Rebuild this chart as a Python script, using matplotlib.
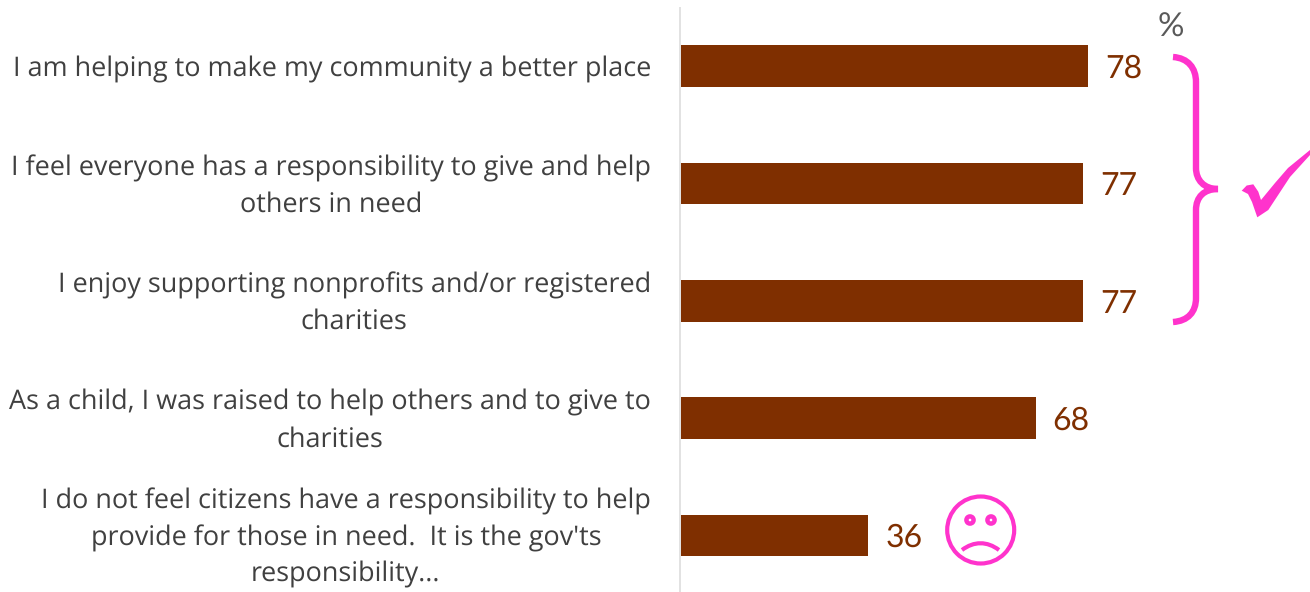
import matplotlib
matplotlib.use("Agg")
import matplotlib.pyplot as plt
from matplotlib.patches import Circle, PathPatch, Polygon
from matplotlib.path import Path

etiquetas = [
    "I am helping to make my community a better place",
    "I feel everyone has a responsibility to give and help\nothers in need",
    "I enjoy supporting nonprofits and/or registered\ncharities",
    "As a child, I was raised to help others and to give to\ncharities",
    "I do not feel citizens have a responsibility to help\nprovide for those in need.  It is the gov'ts\nresponsibility...",
]
valores = [78, 77, 77, 68, 36]

MARRON = "#7f2f00"
ROSA = "#ff33cc"
W, H = 1310, 592

plt.rcParams["text.hinting"] = "no_hinting"
plt.rcParams["text.hinting_factor"] = 1

fig = plt.figure(figsize=(W / 100, H / 100), dpi=100)

# ejes de las barras: el cero queda en x=680
ax = fig.add_axes([680 / W, (H - 594.2) / H, (W - 680) / W, 586.6 / H])
posiciones = list(range(len(valores)))
ax.barh(posiciones, valores, height=0.354, color=MARRON)
ax.set_xlim(0, (W - 680) / 5.235)
ax.set_ylim(len(valores) - 0.5, -0.5)
ax.patch.set_visible(False)
for lado in ["top", "right", "bottom"]:
    ax.spines[lado].set_visible(False)
ax.spines["left"].set_color("#e2e2e2")
ax.spines["left"].set_linewidth(1.44)
ax.set_xticks([])
ax.set_yticks([])

# etiquetas de categoria, alineadas a la derecha y centradas entre si
for p, etiqueta in zip(posiciones, etiquetas):
    ax.annotate(etiqueta, xy=(0, p), xytext=(-21, -2), textcoords="offset points",
                family="Open Sans", fontsize=19.4, color="#404040", linespacing=1.46,
                ha="right", va="center", multialignment="center")

for p, v in zip(posiciones, valores):
    ax.text(v + 3.2, p + 0.022, str(v), family="Lato", fontsize=23, color=MARRON, ha="left", va="center")

# capa en pixeles para las anotaciones
capa = fig.add_axes([0, 0, 1, 1])
capa.set_xlim(0, W)
capa.set_ylim(H, 0)
capa.axis("off")

capa.text(1170.5, 27, "%", family="Lato", fontsize=24, color="#595959", ha="center", va="center")

# llave
vertices = [
    (1173, 57), (1188, 58), (1196, 68), (1196, 82),
    (1196, 168),
    (1196, 180), (1204, 189), (1218, 189),
    (1204, 189), (1196, 197), (1196, 210),
    (1196, 298),
    (1196, 312), (1188, 321), (1173, 322),
]
codigos = [Path.MOVETO, Path.CURVE4, Path.CURVE4, Path.CURVE4, Path.LINETO,
           Path.CURVE4, Path.CURVE4, Path.CURVE4, Path.CURVE4, Path.CURVE4, Path.CURVE4,
           Path.LINETO, Path.CURVE4, Path.CURVE4, Path.CURVE4]
capa.add_patch(PathPatch(Path(vertices, codigos), fill=False, edgecolor=ROSA, linewidth=4.6, capstyle="butt"))

# marca de verificacion
capa.add_patch(Polygon(
    [(1241.7, 190.7), (1246.7, 185.5), (1253.3, 184.3), (1258.3, 191.7), (1261, 200), (1275, 183),
     (1288, 168), (1310, 150), (1310, 155), (1290, 177), (1268.3, 210), (1257.3, 217.3), (1252, 202), (1248, 194)],
    closed=True, facecolor=ROSA, edgecolor="none"))

# cara triste
capa.add_patch(Circle((980.7, 530), 33.5, fill=False, edgecolor=ROSA, linewidth=3))
for x_ojo in [970, 991]:
    capa.add_patch(Circle((x_ojo, 520), 3.6, facecolor="white", edgecolor=ROSA, linewidth=3.2))
boca = Path([(962, 550), (974, 541), (987, 541), (999, 550)], [Path.MOVETO, Path.CURVE4, Path.CURVE4, Path.CURVE4])
capa.add_patch(PathPatch(boca, fill=False, edgecolor=ROSA, linewidth=3))

fig.savefig("out.png", dpi=100)
